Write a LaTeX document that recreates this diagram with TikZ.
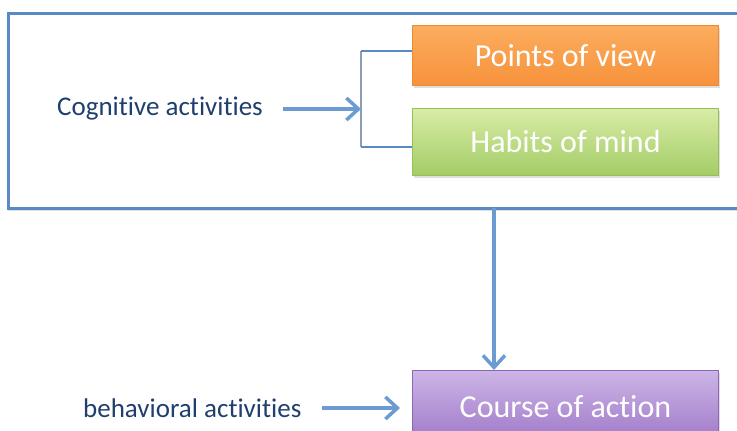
\documentclass[tikz,border=0pt]{standalone}
\usepackage{fontspec}
\setmainfont[Ligatures=NoCommon]{Carlito}
\usetikzlibrary{arrows.meta,shadows}
\definecolor{lineblue}{HTML}{5A8AC6}
\definecolor{arrowblue}{HTML}{6C9BD2}
\definecolor{bracketgray}{HTML}{8C9DB5}
\definecolor{labelblue}{HTML}{1F3F6E}
\definecolor{orangetop}{HTML}{FBAD5E}
\definecolor{orangebot}{HTML}{F7923C}
\definecolor{orangeedge}{HTML}{F08A30}
\definecolor{greentop}{HTML}{D8ECA6}
\definecolor{greenbot}{HTML}{A3CC66}
\definecolor{greenedge}{HTML}{98C05A}
\definecolor{purpletop}{HTML}{CCB5E6}
\definecolor{purplebot}{HTML}{9F78C8}
\definecolor{purpleedge}{HTML}{8E66B8}
\begin{document}
\begin{tikzpicture}[x=1pt,y=-1pt,
  outerbox/.style={draw=lineblue, line width=2.5pt, fill=white, rectangle, inner sep=0pt,
     drop shadow={shadow xshift=0pt, shadow yshift=-3pt, opacity=0.25}},
  colorbox/.style={rectangle, inner sep=0pt, line width=1pt, text=white,
     font=\fontsize{32}{38}\selectfont, minimum width=306pt, anchor=north west,
     drop shadow={shadow xshift=1pt, shadow yshift=-2pt, opacity=0.25}},
  label/.style={anchor=west, text=labelblue, font=\fontsize{27}{32}\selectfont, inner sep=0pt},
  arr/.style={draw=arrowblue, line width=3.5pt, -{Straight Barb[length=12pt,width=22pt]}},
  bracket/.style={line width=2pt}
]
\useasboundingbox (0,0) rectangle (737,431);
\clip (0,0) rectangle (737,431);
\fill[white] (0,0) rectangle (737,431);

\node[outerbox, anchor=north west, minimum width=760pt, minimum height=195pt] (outer) at (7,12) {};

\node[colorbox, top color=orangetop, bottom color=orangebot, draw=orangeedge,
      minimum height=60pt] (pov) at (412,25) {Points of view};
\node[colorbox, top color=greentop, bottom color=greenbot, draw=greenedge,
      minimum height=67pt] (hom) at (412,108) {Habits of mind};
\node[colorbox, top color=purpletop, bottom color=purplebot, draw=purpleedge,
      minimum height=72pt] (coa) at (412,370) {Course of action};

\node[label] (cog) at (57,109) {Cognitive activities};
\node[label] (beh) at (83,408) {behavioral activities};

% bracket
\coordinate (btop) at (361,51);
\coordinate (bbot) at (361,147);
\coordinate (bmid) at (361,109);
\draw[bracket, draw=bracketgray] (btop) -- (bbot);
\draw[bracket, draw=lineblue] (btop) -- (btop -| pov.west);
\draw[bracket, draw=lineblue] (bbot) -- (bbot -| hom.west);

% arrows
\coordinate (cogend) at (283,109);
\draw[arr] (cogend) -- (bmid);
\coordinate (behend) at (322,408);
\draw[arr] (behend) -- (400,408);
\coordinate (vtop) at (494,208);
\draw[arr] (vtop) -- (vtop |- coa.north);
\end{tikzpicture}
\end{document}
